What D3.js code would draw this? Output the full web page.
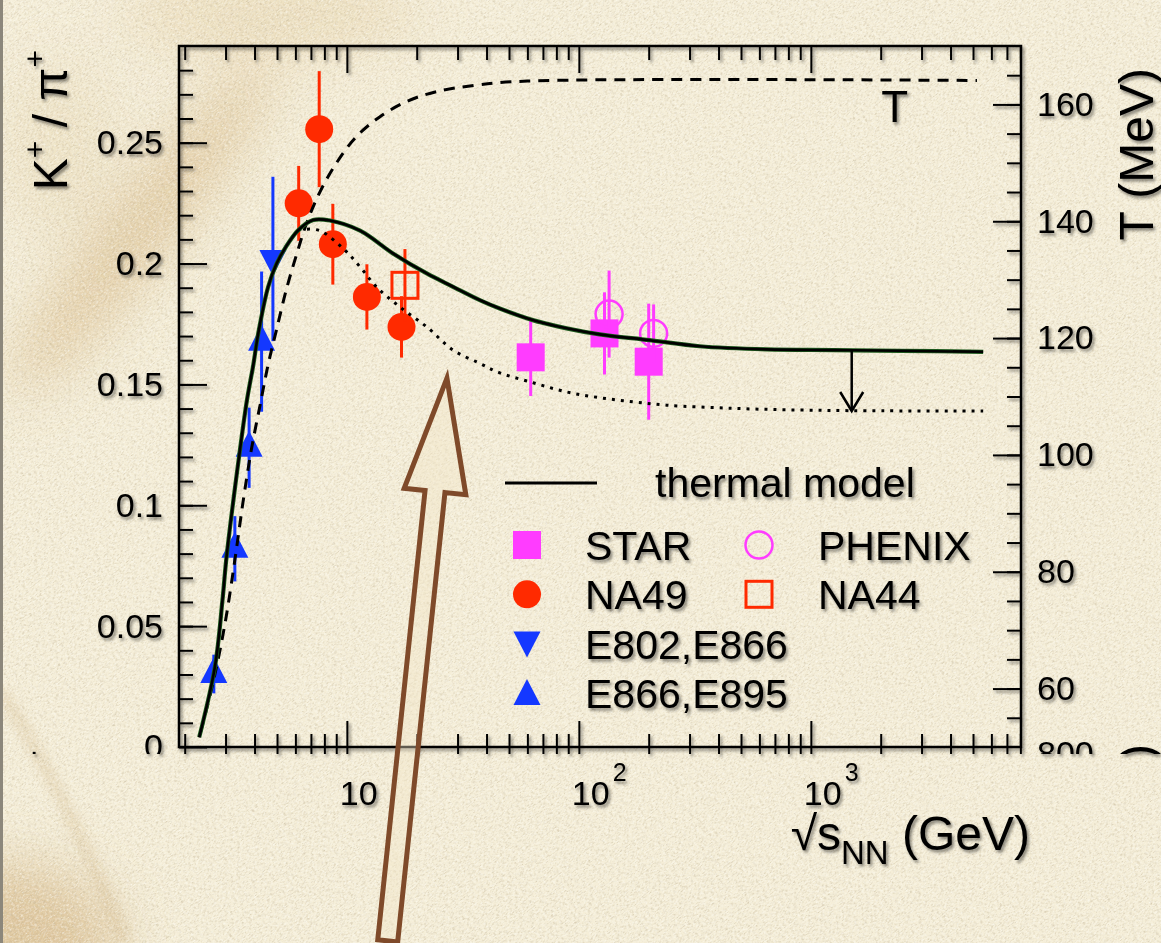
<!DOCTYPE html>
<html>
<head>
<meta charset="utf-8">
<script src="https://cdn.jsdelivr.net/npm/d3@7"></script>
<style>
html, body { margin: 0; padding: 0; background: #f4ecd5; overflow: hidden; }
svg { display: block; }
text { font-family: "Liberation Sans", Arial, Helvetica, sans-serif; }
</style>
</head>
<body>
<div id="chart"></div>
<script>
// ---------------- data ----------------
// thermal model K+/pi+ (solid)
var thermalE = [2.31, 2.70, 2.91, 3.03, 3.43, 3.71, 3.95, 4.15, 4.58, 4.98, 5.46, 6.17, 7.16, 8.45, 11.4, 15.8, 22.1, 28.7, 37.4, 45.6, 63.3, 88.5, 123, 202, 332, 644, 1245, 2420, 5530];
var thermalR = [0.0040, 0.0332, 0.0608, 0.0787, 0.1201, 0.1435, 0.158, 0.1711, 0.1904, 0.200, 0.2069, 0.2138, 0.2180, 0.2178, 0.2136, 0.2042, 0.1959, 0.1904, 0.1849, 0.1814, 0.1766, 0.1732, 0.1707, 0.1683, 0.1658, 0.1645, 0.1642, 0.1639, 0.1635];
// lowered model (dotted)
var dottedE = [6.17, 6.6, 7.65, 9.64, 11.4, 13.4, 16.9, 22.1, 28.7, 37.4, 45.6, 63.5, 88.5, 123, 172, 239, 463, 897, 1740, 5530];
var dottedR = [0.2138, 0.2142, 0.2136, 0.2062, 0.1986, 0.1904, 0.1821, 0.1738, 0.1642, 0.1587, 0.1548, 0.1507, 0.1469, 0.1445, 0.1428, 0.1414, 0.1401, 0.1394, 0.1391, 0.1390];
// freeze-out temperature T (dashed, right axis)
var tempE = [2.34, 2.65, 2.98, 3.29, 3.57, 3.88, 4.25, 4.58, 4.98, 5.5, 6.07, 6.7, 7.65, 9.03, 11.0, 13.9, 18.1, 24.4, 36.2, 60, 5200];
var tempT = [52.5, 61, 71, 82, 92, 101, 109, 115.5, 121.5, 128.5, 134.3, 139.6, 145, 150, 154.5, 157.9, 160.5, 162.2, 163.3, 164, 164.1];

// measurements
var na49E = [6.2, 7.6, 8.7, 12.2, 17.2];
var na49R = [0.2249, 0.2556, 0.2080, 0.1862, 0.1738];
var na49Err = [0.0155, 0.024, 0.0167, 0.0135, 0.0127];
var na44E = [17.8];
var na44R = [0.191];
var na44Err = [0.015];
var starE = [62, 129, 200];
var starR = [0.1612, 0.1711, 0.1594];
var starErr = [0.016, 0.017, 0.024];
var phenixE = [135, 210];
var phenixR = [0.1791, 0.1711];
var phenixErr = [0.018, 0.012];
var e802E = [4.8];
var e802R = [0.2019];
var e802Err = [0.034];
var e895E = [2.67, 3.29, 3.79, 4.29];
var e895R = [0.0302, 0.0820, 0.1238, 0.1677];
var e895Err = [0.008, 0.0135, 0.0166, 0.029];

// axis ticks
var leftTicks = [0, 0.05, 0.1, 0.15, 0.2, 0.25];
var leftTickLabels = ["0", "0.05", "0.1", "0.15", "0.2", "0.25"];
var rightTicks = [60, 80, 100, 120, 140, 160];
var xTicks = [10, 100, 1000];
var xTickExp = ["", "2", "3"];

// annotations
var shiftE = 1500, shiftFrom = 0.1642, shiftTo = 0.139;   // black arrow
var bigTip = [27, 0.1526], bigTail = [15, -0.0802];       // brown arrow
var tLabel = [2300, 157];

var legendLeft = ["STAR", "NA49", "E802,E866", "E866,E895"];
var legendRight = ["PHENIX", "NA44"];

// ---------------- layout ----------------
var W = 1161, H = 943;
var xL = 179, xR = 1021, yTop = 46, yB = 747;

var x = d3.scaleLog().domain([1.89, 8050]).range([xL, xR]);
var y = d3.scaleLinear().domain([0, 0.29]).range([yB, yTop]);
var yT = d3.scaleLinear().domain([50, 170]).range([yB, yTop]);

var RED = "#ff2a00", BLUE = "#1438ff", MAG = "#ff3cff";

var svg = d3.select("#chart").append("svg").attr("width", W).attr("height", H);
var defs = svg.append("defs");

var sh = defs.append("filter").attr("id", "shadow").attr("x", "-10%").attr("y", "-10%").attr("width", "130%").attr("height", "130%");
sh.append("feDropShadow").attr("dx", 2).attr("dy", 2.5).attr("stdDeviation", 1.6)
    .attr("flood-color", "#000").attr("flood-opacity", 0.45);

var bl = defs.append("filter").attr("id", "blur").attr("x", "-50%").attr("y", "-50%").attr("width", "200%").attr("height", "200%");
bl.append("feGaussianBlur").attr("stdDeviation", 28);
var bl2 = defs.append("filter").attr("id", "blur2").attr("x", "-50%").attr("y", "-50%").attr("width", "200%").attr("height", "200%");
bl2.append("feGaussianBlur").attr("stdDeviation", 6);

var gr = defs.append("filter").attr("id", "grain").attr("x", 0).attr("y", 0).attr("width", "100%").attr("height", "100%");
gr.append("feTurbulence").attr("type", "fractalNoise").attr("baseFrequency", "0.35 0.9").attr("numOctaves", 4).attr("seed", 4);
gr.append("feColorMatrix").attr("type", "matrix")
    .attr("values", "0 0 0 0 0.50  0 0 0 0 0.42  0 0 0 0 0.28  2.4 0 0 0 -1.1");

var gr2 = defs.append("filter").attr("id", "grain2").attr("x", 0).attr("y", 0).attr("width", "100%").attr("height", "100%");
gr2.append("feTurbulence").attr("type", "fractalNoise").attr("baseFrequency", "0.4 0.8").attr("numOctaves", 3).attr("seed", 11);
gr2.append("feColorMatrix").attr("type", "matrix")
    .attr("values", "0 0 0 0 1  0 0 0 0 1  0 0 0 0 0.96  0 2.4 0 0 -1.05");

defs.append("clipPath").attr("id", "cut").append("rect")
    .attr("x", -2000).attr("y", -2000).attr("width", 5000).attr("height", 2754);

// ---------------- background ----------------
var bg = svg.append("g");
bg.append("rect").attr("width", W).attr("height", H).attr("fill", "#f5eed8");
var st = bg.append("g").attr("filter", "url(#blur)");
st.append("ellipse").attr("cx", 140).attr("cy", 230).attr("rx", 32).attr("ry", 210)
    .attr("transform", "rotate(38 140 230)").attr("fill", "#c99f5f").attr("opacity", 0.45);
st.append("ellipse").attr("cx", 270).attr("cy", 15).attr("rx", 150).attr("ry", 40)
    .attr("fill", "#d9ba82").attr("opacity", 0.3);
st.append("ellipse").attr("cx", 0).attr("cy", 943).attr("rx", 120).attr("ry", 80)
    .attr("fill", "#c9a266").attr("opacity", 0.5);
st.append("ellipse").attr("cx", 60).attr("cy", 150).attr("rx", 60).attr("ry", 90)
    .attr("fill", "#e2cc9e").attr("opacity", 0.3);
bg.append("path").attr("d", "M0,690 Q70,800 125,943").attr("fill", "none")
    .attr("stroke", "#c8a873").attr("stroke-width", 10).attr("opacity", 0.35).attr("filter", "url(#blur2)");
var grainG = bg.append("g").attr("transform", "rotate(-38 580 470)");
grainG.append("rect").attr("x", -400).attr("y", -400).attr("width", W + 800).attr("height", H + 800)
    .attr("filter", "url(#grain)").attr("opacity", 0.55);
grainG.append("rect").attr("x", -400).attr("y", -400).attr("width", W + 800).attr("height", H + 800)
    .attr("filter", "url(#grain2)").attr("opacity", 0.6);
bg.append("rect").attr("x", 0).attr("width", 3).attr("height", H).attr("fill", "#8c877b");

// ---------------- axes ----------------
var axes = svg.append("g").attr("filter", "url(#shadow)");

function styleAxis(g) {
    g.select(".domain").remove();
    g.attr("font-size", 34).attr("font-family", "'Liberation Sans', Arial, sans-serif");
    g.selectAll("line").attr("stroke", "#000").attr("stroke-width", 2);
    g.selectAll("text").attr("fill", "#000");
}

var leftMinor = d3.range(0.01, 0.29, 0.01);
var gl = axes.append("g").attr("transform", "translate(" + xL + ",0)").attr("clip-path", "url(#cut)");
gl.append("g").call(d3.axisLeft(y).tickValues(leftMinor).tickFormat("").tickSize(-14).tickSizeOuter(0)).call(styleAxis);
gl.append("g").call(d3.axisLeft(y).tickValues(leftTicks)
    .tickFormat(function(d, i) { return leftTickLabels[i]; })
    .tickSize(-28).tickPadding(16).tickSizeOuter(0)).call(styleAxis);

var rightMinor = d3.range(55, 170, 5);
var gr_ = axes.append("g").attr("transform", "translate(" + xR + ",0)");
gr_.append("g").call(d3.axisRight(yT).tickValues(rightMinor).tickFormat("").tickSize(-14).tickSizeOuter(0)).call(styleAxis);
gr_.append("g").call(d3.axisRight(yT).tickValues(rightTicks).tickSize(-28).tickPadding(16).tickSizeOuter(0)).call(styleAxis);

var isMajor = function(d) { var l = Math.log10(d); return Math.abs(l - Math.round(l)) < 1e-9; };
var xMinor = x.ticks().filter(function(d) { return !isMajor(d); });

var gb = axes.append("g").attr("transform", "translate(0," + yB + ")");
gb.append("g").call(d3.axisBottom(x).tickValues(xMinor).tickFormat("").tickSize(-13).tickSizeOuter(0)).call(styleAxis);
gb.append("g").call(d3.axisBottom(x).tickValues(xTicks).tickFormat("").tickSize(-26).tickSizeOuter(0)).call(styleAxis);
gb.selectAll(".tick line").attr("y1", 7);

var gt = axes.append("g").attr("transform", "translate(0," + yTop + ")");
gt.append("g").call(d3.axisTop(x).tickValues(xMinor).tickFormat("").tickSize(-14).tickSizeOuter(0)).call(styleAxis);
gt.append("g").call(d3.axisTop(x).tickValues(xTicks).tickFormat("").tickSize(-27).tickSizeOuter(0)).call(styleAxis);

axes.append("rect").attr("x", xL).attr("y", yTop).attr("width", xR - xL).attr("height", yB - yTop)
    .attr("fill", "none").attr("stroke", "#000").attr("stroke-width", 2.5);

// x tick labels 10^n
var xl = axes.append("g").selectAll("text").data(xTicks).enter().append("text")
    .attr("x", function(d) { return x(d) - 7; })
    .attr("y", 805)
    .attr("font-size", 34);
xl.append("tspan").text("10");
xl.append("tspan").attr("dx", 3).attr("dy", -24).attr("font-size", 25)
    .text(function(d, i) { return xTickExp[i]; });

// clipped pieces of the panel below
var cutG = axes.append("g").attr("clip-path", "url(#cut)");
cutG.append("text").attr("x", xR + 16).attr("y", 754).attr("dy", "0.32em").attr("font-size", 34).text("800");
cutG.append("text").attr("transform", "translate(1153,752) rotate(-90)").attr("text-anchor", "middle")
    .attr("font-size", 48).text(")");
cutG.append("text").attr("x", 30).attr("y", 755).attr("font-size", 30).text(".");

// axis titles
var yt = axes.append("text").attr("transform", "translate(67,50) rotate(-90)").attr("text-anchor", "end").attr("font-size", 48);
yt.append("tspan").text("K");
yt.append("tspan").attr("font-size", 30).attr("dy", -22).text("+");
yt.append("tspan").attr("dy", 22).text(" / \u03c0");
yt.append("tspan").attr("font-size", 30).attr("dy", -22).text("+");

axes.append("text").attr("transform", "translate(1153,68) rotate(-90)").attr("text-anchor", "end")
    .attr("font-size", 48).text("T (MeV)");

var xt = axes.append("text").attr("x", 1030).attr("y", 850).attr("text-anchor", "end").attr("font-size", 48);
xt.append("tspan").text("\u221as");
xt.append("tspan").attr("font-size", 33).attr("dy", 14).text("NN");
xt.append("tspan").attr("dy", -14).text(" (GeV)");

axes.append("text").attr("x", x(tLabel[0])).attr("y", yT(tLabel[1])).attr("text-anchor", "middle")
    .attr("font-size", 44).text("T");

// ---------------- markers ----------------
var plot = svg.append("g");

function triPath(cx, cy, down) {
    var s = down ? -1 : 1;
    return "M" + (cx - 13.5) + "," + (cy + 9 * s) + "L" + (cx + 13.5) + "," + (cy + 9 * s) +
        "L" + cx + "," + (cy - 17 * s) + "Z";
}

function drawMarker(g, kind, cx, cy) {
    if (kind === "sqFill") g.append("rect").attr("x", cx - 14).attr("y", cy - 14).attr("width", 28).attr("height", 28).attr("fill", MAG);
    else if (kind === "sqOpen") g.append("rect").attr("x", cx - 13).attr("y", cy - 13).attr("width", 26).attr("height", 26)
        .attr("fill", "none").attr("stroke", RED).attr("stroke-width", 3);
    else if (kind === "circFill") g.append("circle").attr("cx", cx).attr("cy", cy).attr("r", 14).attr("fill", RED);
    else if (kind === "circOpen") g.append("circle").attr("cx", cx).attr("cy", cy).attr("r", 13.5)
        .attr("fill", "none").attr("stroke", MAG).attr("stroke-width", 2.5);
    else if (kind === "triDown") g.append("path").attr("d", triPath(cx, cy, true)).attr("fill", BLUE);
    else if (kind === "triUp") g.append("path").attr("d", triPath(cx, cy, false)).attr("fill", BLUE);
}

function drawSeries(E, R, Err, color, kind) {
    var g = plot.append("g");
    E.forEach(function(e, i) {
        g.append("line").attr("x1", x(e)).attr("x2", x(e))
            .attr("y1", y(R[i] - Err[i])).attr("y2", y(R[i] + Err[i]))
            .attr("stroke", color).attr("stroke-width", 3);
        drawMarker(g, kind, x(e), y(R[i]));
    });
}

drawSeries(e895E, e895R, e895Err, BLUE, "triUp");
drawSeries(e802E, e802R, e802Err, BLUE, "triDown");
drawSeries(na49E, na49R, na49Err, RED, "circFill");
drawSeries(na44E, na44R, na44Err, RED, "sqOpen");
drawSeries(starE, starR, starErr, MAG, "sqFill");
drawSeries(phenixE, phenixR, phenixErr, MAG, "circOpen");

// ---------------- curves ----------------
var smooth = d3.curveCatmullRom.alpha(0.5);
var lineR = d3.line().x(function(d) { return x(d[0]); }).y(function(d) { return y(d[1]); }).curve(smooth);
var lineT = d3.line().x(function(d) { return x(d[0]); }).y(function(d) { return yT(d[1]); }).curve(smooth);

plot.append("path").attr("d", lineT(d3.zip(tempE, tempT))).attr("fill", "none")
    .attr("stroke", "#000").attr("stroke-width", 3).attr("stroke-dasharray", "11,8");
plot.append("path").attr("d", lineR(d3.zip(dottedE, dottedR))).attr("fill", "none")
    .attr("stroke", "#000").attr("stroke-width", 3).attr("stroke-dasharray", "3,6");
plot.append("path").attr("d", lineR(d3.zip(thermalE, thermalR))).attr("fill", "none")
    .attr("stroke", "#1e5a1e").attr("stroke-width", 4.2);
plot.append("path").attr("d", lineR(d3.zip(thermalE, thermalR))).attr("fill", "none")
    .attr("stroke", "#000").attr("stroke-width", 2.6);

// black shift arrow
var ax = x(shiftE), ay1 = y(shiftFrom), ay2 = y(shiftTo);
plot.append("line").attr("x1", ax).attr("x2", ax).attr("y1", ay1).attr("y2", ay2)
    .attr("stroke", "#000").attr("stroke-width", 2.5);
plot.append("path").attr("d", "M" + (ax - 11.5) + "," + (ay2 - 19) + "L" + ax + "," + ay2 + "L" + (ax + 11.5) + "," + (ay2 - 19))
    .attr("fill", "none").attr("stroke", "#000").attr("stroke-width", 2.5);

// ---------------- legend ----------------
var leg = svg.append("g");
var legText = leg.append("g").attr("filter", "url(#shadow)").attr("font-size", 41);
leg.append("line").attr("x1", 505).attr("x2", 597).attr("y1", 483).attr("y2", 483)
    .attr("stroke", "#000").attr("stroke-width", 3);
legText.append("text").attr("x", 655).attr("y", 497).text("thermal model");

var leftKinds = ["sqFill", "circFill", "triDown", "triUp"];
var rightKinds = ["circOpen", "sqOpen"];
var rowY = function(i) { return 545 + i * 49.3; };
legendLeft.forEach(function(t, i) {
    drawMarker(leg, leftKinds[i], 527, rowY(i) + (leftKinds[i] === "triUp" ? 3 : (leftKinds[i] === "triDown" ? -3 : 0)));
    legText.append("text").attr("x", 585).attr("y", rowY(i) + 15).text(t);
});
legendRight.forEach(function(t, i) {
    drawMarker(leg, rightKinds[i], 759, rowY(i));
    legText.append("text").attr("x", 818).attr("y", rowY(i) + 15).text(t);
});

// ---------------- brown hollow arrow ----------------
var tip = [x(bigTip[0]), y(bigTip[1])], tail = [x(bigTail[0]), y(bigTail[1])];
var dx = tip[0] - tail[0], dy = tip[1] - tail[1], len = Math.sqrt(dx * dx + dy * dy);
var ux = dx / len, uy = dy / len, nx = -uy, ny = ux;
var headLen = 114, headW = 31, shaftW = 10;
var hb = [tip[0] - headLen * ux, tip[1] - headLen * uy];
var pts = [
    tip,
    [hb[0] + headW * nx, hb[1] + headW * ny],
    [hb[0] + shaftW * nx, hb[1] + shaftW * ny],
    [tail[0] + shaftW * nx, tail[1] + shaftW * ny],
    [tail[0] - shaftW * nx, tail[1] - shaftW * ny],
    [hb[0] - shaftW * nx, hb[1] - shaftW * ny],
    [hb[0] - headW * nx, hb[1] - headW * ny]
];
svg.append("path").attr("d", "M" + pts.map(function(p) { return p[0] + "," + p[1]; }).join("L") + "Z")
    .attr("fill", "#f3e6c8").attr("fill-opacity", 0.4)
    .attr("stroke", "#7f4a2a").attr("stroke-width", 5).attr("stroke-linejoin", "miter");
</script>
</body>
</html>
